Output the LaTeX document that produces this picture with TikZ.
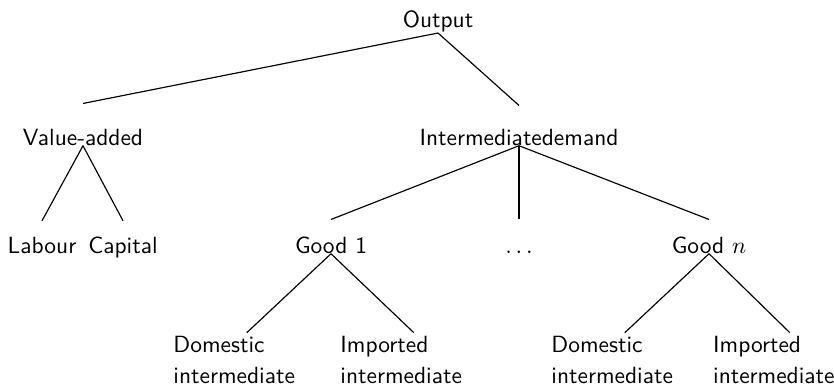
\documentclass[tikz,border=0pt]{standalone}
\usepackage{tikz}
\usetikzlibrary{positioning}

\begin{document}
\begin{tikzpicture}[
    every node/.style={font=\sffamily},
    level/.style={inner sep=0pt, anchor=base, text height=7pt},
    leaf/.style={inner sep=0pt, anchor=north west, text width=2.2cm, align=left,
                 font=\sffamily\fontsize{10}{13}\selectfont},
    branch/.style={draw=black, line width=0.5pt}
]
\useasboundingbox (0,0) rectangle (12.51,-5.805);

\node[level] (OUT) at (6.57, -0.42) {Output};

\node[level] (VA) at (1.245, -2.175) {Value-added};
\node[level] (ID) at (7.785, -2.175) {Intermediatedemand};

\node[level] (LAB) at (0.63, -3.795) {Labour};
\node[level] (CAP) at (1.845, -3.795) {Capital};
\node[level] (G1) at (4.965, -3.795) {Good 1};
\node[level] (DOTS) at (7.785, -3.795) {$\ldots$};
\node[level] (GN) at (10.635, -3.795) {Good $n$};

\node[leaf] (DOM1) at (2.595, -5.04) {Domestic\\intermediate};
\node[leaf] (IMP1) at (5.1, -5.04) {Imported\\intermediate};
\node[leaf] (DOM2) at (8.265, -5.04) {Domestic\\intermediate};
\node[leaf] (IMP2) at (10.69, -5.04) {Imported\\intermediate};

\draw[branch] (OUT.south) -- ([yshift=3.7mm]VA.north);
\draw[branch] (OUT.south) -- ([yshift=3.4mm]ID.north);
\draw[branch] (VA.south) -- ([yshift=2.3mm]LAB.north);
\draw[branch] (VA.south) -- ([yshift=2.3mm]CAP.north);
\draw[branch] (ID.south) -- ([yshift=2.5mm]G1.north);
\draw[branch] (ID.south) -- ([yshift=2.5mm]DOTS.north);
\draw[branch] (ID.south) -- ([yshift=2.5mm]GN.north);
\draw[branch] (G1.south) -- ([yshift=0.5mm]DOM1.north);
\draw[branch] (G1.south) -- ([yshift=0.5mm]IMP1.north);
\draw[branch] (GN.south) -- ([yshift=0.5mm]DOM2.north);
\draw[branch] (GN.south) -- ([xshift=0.5mm, yshift=0.5mm]IMP2.north);

\end{tikzpicture}
\end{document}
